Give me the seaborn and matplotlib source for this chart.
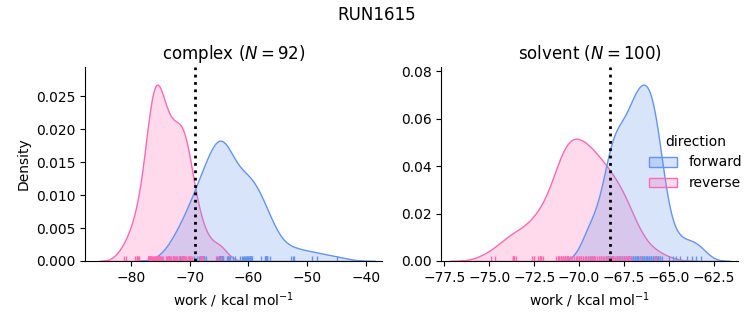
import numpy as np
import pandas as pd
import matplotlib
matplotlib.use("Agg")
import matplotlib.pyplot as plt
import seaborn as sns

# work values (kcal/mol) per phase and direction
complex_forward = [-72.8, -71.9, -71.6, -71.5, -71.3, -71.2, -70.9, -70.0, -69.3, -68.7,
                   -68.4, -68.3, -68.1, -68.1, -68.0, -67.9, -67.9, -67.8, -67.8, -67.7,
                   -67.7, -67.6, -67.6, -67.5, -67.3, -65.4,
                   -65.0, -65.0, -64.9, -64.9, -64.9, -64.8, -64.8, -64.8, -64.8, -64.8, -64.7,
                   -64.7, -64.7, -64.7, -64.7, -64.7, -64.6, -64.6, -64.6, -64.5, -64.5, -64.4,
                   -64.5, -64.3, -63.7, -63.5, -63.4, -63.3, -63.1, -62.7, -62.3, -61.4, -61.1, -60.9,
                   -60.8, -60.6, -60.5, -60.3, -60.2, -60.1, -60.0, -59.9, -59.8, -59.7,
                   -59.6, -59.6, -59.5, -59.5, -59.5, -59.4, -57.9, -57.1, -57.1, -57.0,
                   -57.0, -57.0, -56.9, -56.9, -56.8, -56.4, -52.7, -52.5, -52.3, -49.1,
                   -48.4, -45.0]
complex_reverse = [-81.2, -80.9, -79.3, -79.0, -78.9, -78.9, -78.8, -78.7, -77.0,
                   -77.1, -77.0, -77.0, -76.9, -76.9, -76.8, -76.8, -76.7, -76.7, -76.6, -76.6, -76.5, -76.4,
                   -76.2, -76.0, -76.0, -75.9, -75.8, -75.6, -75.5, -75.5,
                   -75.6, -75.5, -75.5, -75.4, -75.4, -75.3, -75.3, -75.2, -75.1,
                   -75.2, -75.1, -74.9, -74.7, -74.5, -74.0, -73.9, -73.8, -73.7, -73.7, -73.6, -73.5,
                   -73.5, -73.4, -73.3, -73.1, -72.9, -72.8, -72.7, -72.6, -72.5, -72.3, -72.2, -72.1,
                   -71.9, -71.4,
                   -71.3, -71.2, -71.2, -71.1, -71.1, -71.0, -71.0, -70.9, -70.9, -70.8, -70.7, -70.7,
                   -70.3, -70.1, -70.0, -70.0, -70.0, -69.9, -69.6, -68.3, -68.2, -68.1, -67.9, -67.8,
                   -65.5, -65.1, -64.7]
solvent_forward = [-69.5, -69.4, -69.4, -69.3, -69.3, -69.3, -68.8,
                   -68.5, -68.5, -68.4, -68.4, -68.4, -68.3, -68.3, -68.2, -68.2, -68.2, -68.1, -68.1,
                   -68.2, -68.2, -68.1, -67.9, -67.9, -67.9, -67.8, -67.8, -67.7, -67.7, -67.6, -67.6,
                   -67.5, -67.5, -67.4, -67.4, -67.3, -67.3, -67.2, -67.2, -67.1, -67.1, -67.1, -67.0,
                   -67.0, -67.0, -66.9, -66.9, -66.9, -66.8, -66.8, -66.8, -66.8, -66.7, -66.7, -66.6, -66.6,
                   -66.6, -66.5, -66.5, -66.5, -66.4,
                   -66.4, -66.4, -66.4, -66.3, -66.2, -66.2,
                   -66.2, -66.2, -66.1, -66.1, -66.1, -66.0, -66.0, -65.8,
                   -66.0, -65.9, -65.9, -65.8, -65.8, -65.8, -65.7, -65.7, -65.7, -65.7, -65.7,
                   -65.6, -65.6, -65.6, -65.5, -65.5, -65.4,
                   -65.0, -64.8, -64.6, -64.4,
                   -64.0, -63.7, -63.5, -63.2]
solvent_reverse = [-74.9, -74.7, -73.7, -73.7, -73.7, -73.6, -73.6, -73.5, -72.6, -72.5,
                   -72.5, -72.3, -72.2, -72.2, -72.2, -72.1, -72.1, -72.0,
                   -71.3, -71.2, -71.2, -71.1, -71.1, -71.0, -71.0, -71.0, -70.9, -70.9, -70.9,
                   -70.8, -70.8, -70.8, -70.8, -70.7, -70.7, -70.7, -70.7, -70.6, -70.6, -70.6,
                   -70.5, -70.5, -70.4, -70.3,
                   -70.2, -70.1, -70.0, -70.0, -70.0, -70.0, -69.9, -69.9, -69.8, -69.8, -69.7,
                   -69.6, -69.6, -69.5, -69.5, -69.4, -69.4, -69.3, -69.3, -69.3, -69.2, -69.2,
                   -69.2, -69.1, -69.0,
                   -68.9, -68.9, -68.8, -68.8, -68.7, -68.6, -68.5, -68.5, -68.4, -68.4, -68.3,
                   -68.2, -68.1, -68.0, -67.9, -67.9,
                   -68.1, -67.8, -67.7, -67.6, -67.5, -67.4, -67.4, -67.3, -67.3, -67.2, -67.2,
                   -67.1, -66.6, -65.8, -65.7]

phases = ["complex", "solvent"]
directions = ["forward", "reverse"]
dg_lines = [-69.15, -68.28]
colors = {"forward": "cornflowerblue", "reverse": "hotpink"}

series = {("complex", "forward"): complex_forward, ("complex", "reverse"): complex_reverse,
          ("solvent", "forward"): solvent_forward, ("solvent", "reverse"): solvent_reverse}
df = pd.concat([pd.DataFrame({"phase": ph, "direction": d, "work": vals})
                for (ph, d), vals in series.items()], ignore_index=True)

g = sns.displot(data=df, x="work", hue="direction", col="phase", kind="kde", fill=True, rug=True,
                palette=colors, hue_order=directions, col_order=phases,
                facet_kws=dict(sharex=False, sharey=False))
fig = g.figure
fig.set_size_inches(7.53, 3.25)
fig.subplots_adjust(left=0.113, right=0.980, bottom=0.197, top=0.794, wspace=0.2)
for ax, ph, dg in zip(g.axes.flat, phases, dg_lines):
    n = len(series[(ph, "forward")])
    ax.set_title(f"{ph} ($N={n}$)")
    ax.axvline(dg, color="k", ls=":", lw=2)
g.axes.flat[0].set_xlim(-87.8, -37.3)
g.axes.flat[1].set_xlim(-77.67, -61.17)
g.set_axis_labels("work / kcal mol$^{-1}$", "Density")
g.axes.flat[1].set_ylabel("")
sns.move_legend(g, "center right", bbox_to_anchor=(1.002, 0.5), frameon=False)
fig.suptitle("RUN1615")
fig.savefig("out.png", dpi=100)
